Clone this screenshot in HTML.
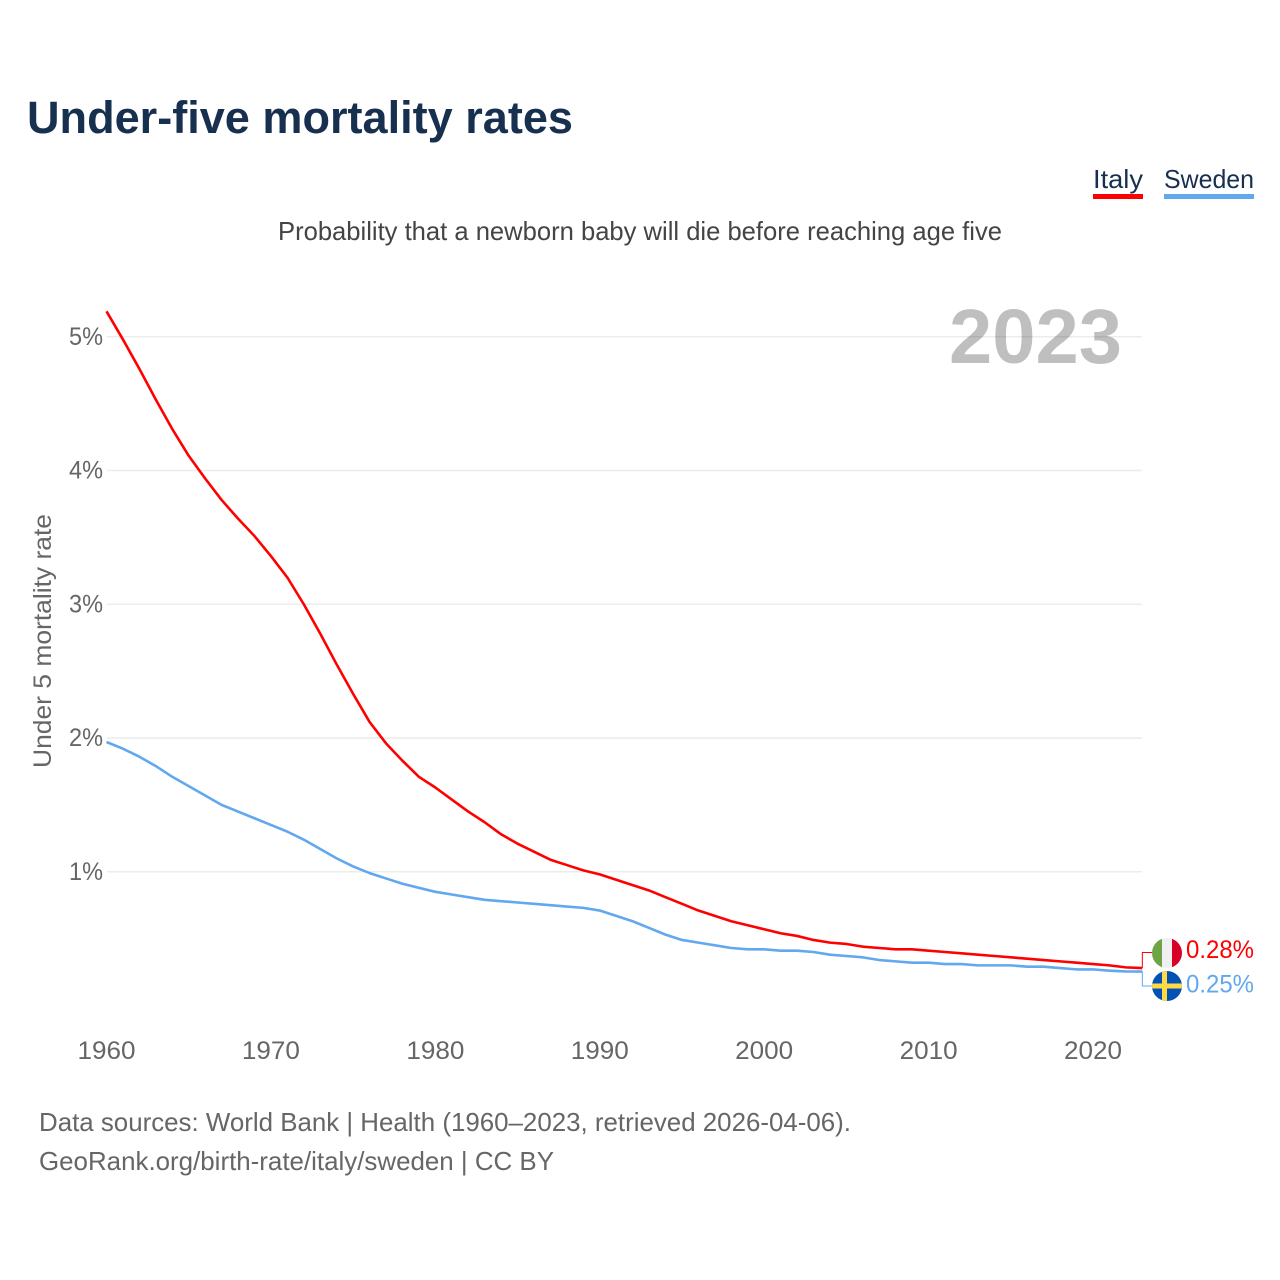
<!DOCTYPE html>
<html lang="en">
<head>
<meta charset="utf-8">
<title>Under-five mortality rates</title>
<style>
html,body{margin:0;padding:0;background:#fff;}
svg{display:block;font-family:"Liberation Sans",sans-serif;}
</style>
</head>
<body>
<svg id="chart" width="1280" height="1280" viewBox="0 0 1280 1280" xmlns="http://www.w3.org/2000/svg">
  <defs>
    <clipPath id="clip-it"><circle id="clip-it-c" cx="1167" cy="953" r="15"></circle></clipPath>
    <clipPath id="clip-se"><circle id="clip-se-c" cx="1167" cy="986" r="15"></circle></clipPath>
  </defs>
  <rect width="1280" height="1280" fill="#ffffff"></rect>
  <text x="27" y="133" font-size="45" font-weight="700" fill="#17304f" textLength="546" lengthAdjust="spacingAndGlyphs">Under-five mortality rates</text>

  <g>
    <text x="1093" y="188" font-size="26" fill="#17304f" textLength="50" lengthAdjust="spacingAndGlyphs">Italy</text>
    <rect x="1093" y="194" width="50" height="5" fill="#ff0000"></rect>
  </g>
  <g>
    <text x="1164" y="188" font-size="26" fill="#17304f" textLength="90" lengthAdjust="spacingAndGlyphs">Sweden</text>
    <rect x="1164" y="194" width="90" height="5" fill="#62a8ee"></rect>
  </g>

  <text x="278" y="240" font-size="26" fill="#444444" textLength="724" lengthAdjust="spacingAndGlyphs">Probability that a newborn baby will die before reaching age five</text>

  <g id="grid"></g>
  <text x="949" y="363" font-size="77" font-weight="700" fill="#000000" fill-opacity="0.25" textLength="173" lengthAdjust="spacingAndGlyphs">2023</text>
  <g id="yticks"></g>
  <g id="xticks"></g>
  <text transform="translate(51,768) rotate(-90)" font-size="25" fill="#666666" textLength="254" lengthAdjust="spacingAndGlyphs">Under 5 mortality rate</text>

  <g id="series"></g>

  <g clip-path="url(#clip-it)">
    <rect x="1152" y="938" width="10" height="30" fill="#6da544"></rect>
    <rect x="1162" y="938" width="10" height="30" fill="#f0f0f0"></rect>
    <rect x="1172" y="938" width="10" height="30" fill="#d80027"></rect>
  </g>
  <g clip-path="url(#clip-se)">
    <rect x="1152" y="971" width="30" height="30" fill="#0052b4"></rect>
    <rect x="1162" y="971" width="5" height="30" fill="#ffda44"></rect>
    <rect x="1152" y="983.5" width="30" height="5" fill="#ffda44"></rect>
  </g>
  <text id="end-it" x="1186" y="958" font-size="25" fill="#ff0000" textLength="68" lengthAdjust="spacingAndGlyphs"></text>
  <text id="end-se" x="1186" y="992.5" font-size="25" fill="#62a8ee" textLength="68" lengthAdjust="spacingAndGlyphs"></text>

  <text x="39" y="1131" font-size="26" fill="#666666" textLength="812" lengthAdjust="spacingAndGlyphs">Data sources: World Bank | Health (1960–2023, retrieved 2026-04-06).</text>
  <text x="39" y="1170" font-size="26" fill="#666666" textLength="515" lengthAdjust="spacingAndGlyphs">GeoRank.org/birth-rate/italy/sweden | CC BY</text>
</svg>
<script>
const startYear = 1960;
const italyValues = [5.19,4.98,4.76,4.53,4.31,4.11,3.94,3.78,3.64,3.51,3.36,3.2,3.0,2.78,2.55,2.33,2.12,1.96,1.83,1.71,1.63,1.54,1.45,1.37,1.28,1.21,1.15,1.09,1.05,1.01,0.98,0.94,0.9,0.86,0.81,0.76,0.71,0.67,0.63,0.6,0.57,0.54,0.52,0.49,0.47,0.46,0.44,0.43,0.42,0.42,0.41,0.4,0.39,0.38,0.37,0.36,0.35,0.34,0.33,0.32,0.31,0.3,0.285,0.28];
const swedenValues = [1.97,1.92,1.86,1.79,1.71,1.64,1.57,1.5,1.45,1.4,1.35,1.3,1.24,1.17,1.1,1.04,0.99,0.95,0.91,0.88,0.85,0.83,0.81,0.79,0.78,0.77,0.76,0.75,0.74,0.73,0.71,0.67,0.63,0.58,0.53,0.49,0.47,0.45,0.43,0.42,0.42,0.41,0.41,0.4,0.38,0.37,0.36,0.34,0.33,0.32,0.32,0.31,0.31,0.3,0.3,0.3,0.29,0.29,0.28,0.27,0.27,0.26,0.255,0.254];
const yTickValues = [1,2,3,4,5];
const xTickYears = [1960,1970,1980,1990,2000,2010,2020];

const NS = 'http://www.w3.org/2000/svg';
function xScale(year){ return 106.5 + (year - 1960) * (1093 - 106.5) / 60; }
function yScale(v){ return 1005.5 - v * 133.75; }
function make(tag, parent, attrs){
  const el = document.createElementNS(NS, tag);
  for (const k in attrs) el.setAttribute(k, attrs[k]);
  parent.appendChild(el);
  return el;
}
const grid = document.getElementById('grid');
const yticks = document.getElementById('yticks');
const xticks = document.getElementById('xticks');
const series = document.getElementById('series');

yTickValues.forEach(function(v){
  const line = make('line', grid, {x1:107, x2:1142, y1:yScale(v), y2:yScale(v), stroke:'#ececec', 'stroke-width':1.5});
  
  
  const label = make('text', yticks, {x:103, y:yScale(v)+8, 'text-anchor':'end', 'font-size':25, fill:'#666666', textLength:34, lengthAdjust:'spacingAndGlyphs'});
  
  
  label.textContent = v + '%';
});
xTickYears.forEach(function(y){
  const label = make('text', xticks, {x:xScale(y), y:1059, 'text-anchor':'middle', 'font-size':25, fill:'#666666', textLength:58, lengthAdjust:'spacingAndGlyphs'});
  
  
  label.textContent = y;
});
function pathFor(values){
  return values.map(function(v,i){
    return (i ? 'L' : 'M') + xScale(startYear + i).toFixed(2) + ' ' + yScale(v).toFixed(2);
  }).join(' ');
}
const swedenLine = make('path', series, {d:pathFor(swedenValues), fill:'none', stroke:'#62a8ee', 'stroke-width':2.6, 'stroke-linejoin':'round'});


const italyLine = make('path', series, {d:pathFor(italyValues), fill:'none', stroke:'#ff0000', 'stroke-width':2.6, 'stroke-linejoin':'round'});



const lastYearX = xScale(startYear + italyValues.length - 1);
const italyLast = italyValues[italyValues.length - 1];
const swedenLast = swedenValues[swedenValues.length - 1];
const connIt = make('path', series, {d:'M' + lastYearX + ' ' + yScale(italyLast) + ' V952.5 H1152', fill:'none', stroke:'#ff0000', 'stroke-width':1});


const connSe = make('path', series, {d:'M' + lastYearX + ' ' + yScale(swedenLast) + ' V986 H1152', fill:'none', stroke:'#62a8ee', 'stroke-width':1});


document.getElementById('end-it').textContent = italyLast.toFixed(2) + '%';
document.getElementById('end-se').textContent = swedenLast.toFixed(2) + '%';
</script>
</body>
</html>
